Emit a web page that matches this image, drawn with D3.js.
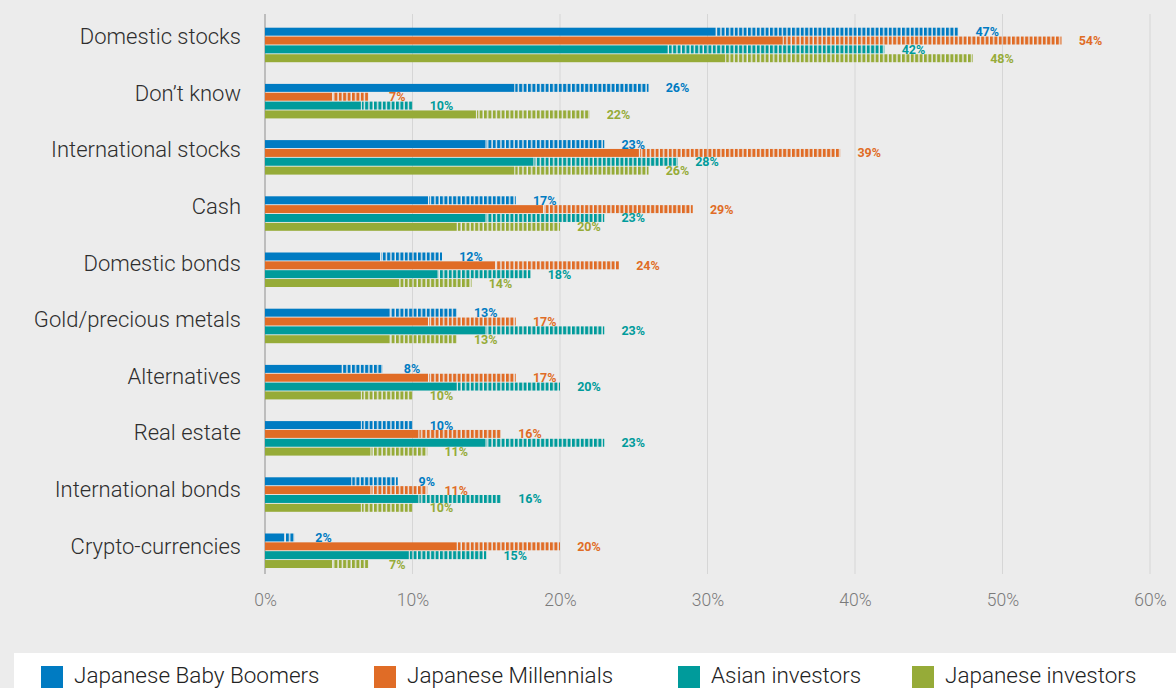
<!DOCTYPE html>
<html>
<head>
<meta charset="utf-8">
<script src="https://cdn.jsdelivr.net/npm/d3@7"></script>
<style>
  html, body { margin: 0; padding: 0; background: #ececec; }
  svg { display: block; }
  text { font-family: Roboto, "Noto Sans", sans-serif; }
</style>
</head>
<body>
<svg id="chart" width="1176" height="688"></svg>
<script>
// Asset categories, top to bottom
const categories = [
  "Domestic stocks", "Don\u2019t know", "International stocks", "Cash",
  "Domestic bonds", "Gold/precious metals", "Alternatives", "Real estate",
  "International bonds", "Crypto-currencies"
];

// Investor groups (series)
const seriesNames = ["Japanese Baby Boomers", "Japanese Millennials", "Asian investors", "Japanese investors"];

// Share of respondents (%) per category, one array per series
const babyBoomers = [47, 26, 23, 17, 12, 13, 8, 10, 9, 2];
const millennials = [54, 7, 39, 29, 24, 17, 17, 16, 11, 20];
const asianInvestors = [42, 10, 28, 23, 18, 23, 20, 23, 16, 15];
const japaneseInvestors = [48, 22, 26, 20, 14, 13, 10, 11, 10, 7];

// Axis ticks
const tickValues = [0, 10, 20, 30, 40, 50, 60];
const tickLabels = ["0%", "10%", "20%", "30%", "40%", "50%", "60%"];

const seriesValues = [babyBoomers, millennials, asianInvestors, japaneseInvestors];
const colors = ["#007bc2", "#e06c26", "#009b9b", "#96ab38"];
const seriesKeys = ["boomers", "millennials", "asian", "japanese"];

// Bars are drawn solid for the first part of their length, then hatched
const solidShare = 0.65;

const svg = d3.select("#chart");

svg.append("rect").attr("width", 1176).attr("height", 688).attr("fill", "#ececec");

// Vertical hatch patterns, one per series colour
const defs = svg.append("defs");
seriesKeys.forEach((k, i) => {
  const p = defs.append("pattern")
    .attr("id", "hatch-" + k)
    .attr("patternUnits", "userSpaceOnUse")
    .attr("width", 4.4).attr("height", 10);
  p.append("rect").attr("x", 0).attr("y", 0).attr("width", 3).attr("height", 10).attr("fill", colors[i]);
});

const x = d3.scaleLinear().domain([0, 60]).range([265, 1150]);

const y = d3.scaleBand()
  .domain(categories)
  .range([27.7, 568])
  .paddingInner(0.386)
  .paddingOuter(0);

const yInner = d3.scaleBand()
  .domain(seriesKeys)
  .range([0, y.bandwidth()])
  .paddingInner(0.1);

// Category label positions
const yLabel = d3.scalePoint().domain(categories).range([36.5, 546]);

// Gridlines
const plotTop = 14, plotBottom = 574;
svg.append("g").selectAll("line")
  .data(tickValues.filter(d => d > 0))
  .join("line")
  .attr("x1", d => x(d)).attr("x2", d => x(d))
  .attr("y1", plotTop).attr("y2", plotBottom)
  .attr("stroke", "#d6d6d6").attr("stroke-width", 1);

// X axis labels
const xAxis = d3.axisBottom(x)
  .tickValues(tickValues)
  .tickFormat((d, i) => tickLabels[i])
  .tickSize(0)
  .tickPadding(0);
const gx = svg.append("g").attr("transform", `translate(0, 594)`).call(xAxis);
gx.select(".domain").remove();
gx.selectAll("text")
  .attr("font-family", "Roboto, sans-serif")
  .attr("font-size", 17.5)
  .attr("font-weight", 300)
  .attr("fill", "#7a7a7a");

// Left axis line
svg.append("line")
  .attr("x1", x(0)).attr("x2", x(0))
  .attr("y1", plotTop).attr("y2", plotBottom)
  .attr("stroke", "#bdbdbd").attr("stroke-width", 2);

// Category labels
svg.append("g").selectAll("text")
  .data(categories)
  .join("text")
  .attr("x", 241)
  .attr("y", d => yLabel(d))
  .attr("dy", "0.35em")
  .attr("text-anchor", "end")
  .attr("font-size", 22)
  .attr("font-weight", 300)
  .attr("fill", "#2e2e2e")
  .text(d => d);

// Bars
const rows = [];
categories.forEach((c, ci) => {
  seriesKeys.forEach((k, si) => {
    rows.push({ cat: c, key: k, si, value: seriesValues[si][ci] });
  });
});

const bars = svg.append("g");
// solid part
bars.selectAll("rect.solid")
  .data(rows)
  .join("rect")
  .attr("class", "solid")
  .attr("x", x(0))
  .attr("y", d => y(d.cat) + yInner(d.key))
  .attr("width", d => x(d.value * solidShare) - x(0))
  .attr("height", yInner.bandwidth())
  .attr("fill", d => colors[d.si]);
// hatched remainder
bars.selectAll("rect.hatch")
  .data(rows)
  .join("rect")
  .attr("class", "hatch")
  .attr("x", d => x(d.value * solidShare) + 1)
  .attr("y", d => y(d.cat) + yInner(d.key))
  .attr("width", d => Math.max(0, x(d.value) - x(d.value * solidShare) - 1))
  .attr("height", yInner.bandwidth())
  .attr("fill", d => `url(#hatch-${d.key})`);

// Value labels
svg.append("g").selectAll("text")
  .data(rows)
  .join("text")
  .attr("x", d => x(d.value) + 29)
  .attr("y", d => y(d.cat) + yInner(d.key) + yInner.bandwidth() / 2)
  .attr("dy", "0.36em")
  .attr("text-anchor", "middle")
  .attr("font-size", 12.5)
  .attr("font-weight", 700)
  .attr("fill", d => colors[d.si])
  .text(d => d.value + "%");

// Legend
svg.append("rect")
  .attr("x", 14).attr("y", 653).attr("width", 1162).attr("height", 35)
  .attr("fill", "#ffffff");

const legendX = [41, 374, 678, 912];
const legend = svg.append("g").selectAll("g")
  .data(seriesNames)
  .join("g")
  .attr("transform", (d, i) => `translate(${legendX[i]}, 666)`);
legend.append("rect")
  .attr("width", 22).attr("height", 22)
  .attr("fill", (d, i) => colors[i]);
legend.append("text")
  .attr("x", 33)
  .attr("y", 16.5)
  .attr("font-size", 22.5)
  .attr("font-weight", 300)
  .attr("fill", "#222")
  .text(d => d);
</script>
</body>
</html>
